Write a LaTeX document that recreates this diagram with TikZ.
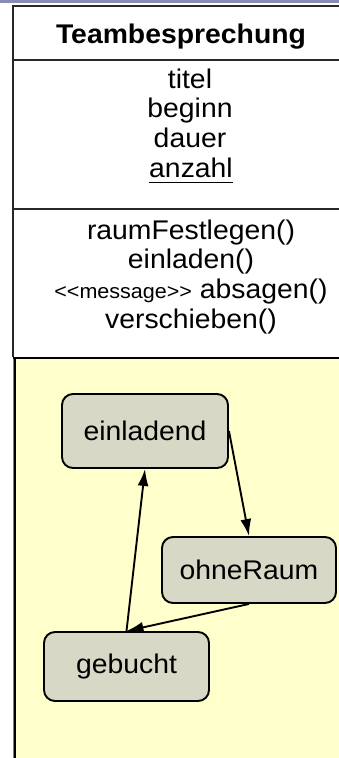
\documentclass[tikz,border=0pt]{standalone}
\usepackage{fontspec}
\setmainfont{Liberation Sans}[FakeStretch=1.05]
\usetikzlibrary{arrows.meta}
\definecolor{bandcol}{RGB}{136,140,176}
\definecolor{yellowbg}{RGB}{255,255,204}
\definecolor{statefill}{RGB}{216,216,198}
\definecolor{linegray}{RGB}{40,40,40}
\tikzset{
  txt/.style={inner sep=0pt, anchor=base, font=\fontsize{27pt}{30pt}\selectfont},
  state/.style={draw=black, line width=1.9pt, fill=statefill, rounded corners=11pt,
                inner sep=0pt, font=\fontsize{27pt}{30pt}\selectfont},
  arr/.style={line width=1.9pt, -{Latex[length=17pt,width=11pt]}},
  classline/.style={draw=linegray, line width=1.3pt},
}
\begin{document}
\begin{tikzpicture}[x=1pt,y=-1pt]
\useasboundingbox (0,0) rectangle (339,758);
\fill[white] (0,0) rectangle (339,758);
% top band
\fill[bandcol] (0,0) rectangle (339,2.5);
% class box
\draw[classline] (339,6) -- (13,6) -- (13,357);
\draw[classline] (13,60) -- (339,60);
\draw[classline] (13,209) -- (339,209);
% yellow region
\fill[yellowbg] (15,358) rectangle (339,758);
\draw[gray, line width=0.8pt] (13.2,359) -- (13.2,758);
\draw[black, line width=2.2pt] (15,358) -- (15,758);
\draw[black, line width=2.5pt] (13,358) -- (339,358);
% texts
\node[txt, font=\fontsize{27pt}{30pt}\selectfont\bfseries] (title) at (181,43) {Teambesprechung};
\node[txt] (titel) at (190,88) {titel};
\node[txt] (beginn) at (190,117) {beginn};
\node[txt] (dauer) at (190,147) {dauer};
\node[txt] (anzahl) at (191,177) {anzahl};
\draw[line width=1pt] ([yshift=-5pt]anzahl.base west) -- ([yshift=-5pt]anzahl.base east);
\node[txt] (raum) at (191,239) {raumFestlegen()};
\node[txt] (einl) at (191,268) {einladen()};
\node[txt] (absagen) at (191,298) {{\fontsize{20.5pt}{20.5pt}\selectfont\mbox{<}\mbox{<}message\mbox{>}\mbox{>}} absagen()};
\node[txt] (versch) at (191,328) {verschieben()};
% states
\node[state, minimum width=166pt, minimum height=74pt] (einladend) at (145,431) {einladend};
\node[state, minimum width=174pt, minimum height=66pt] (ohneRaum) at (249,570) {ohneRaum};
\node[state, minimum width=165pt, minimum height=69pt] (gebucht) at (126.5,666.5) {gebucht};
% transitions
\draw[arr] (einladend.east) -- (ohneRaum.north);
\draw[arr] (ohneRaum.south) -- (gebucht.north);
\draw[arr] (gebucht.north) -- (einladend.south);
\end{tikzpicture}
\end{document}
